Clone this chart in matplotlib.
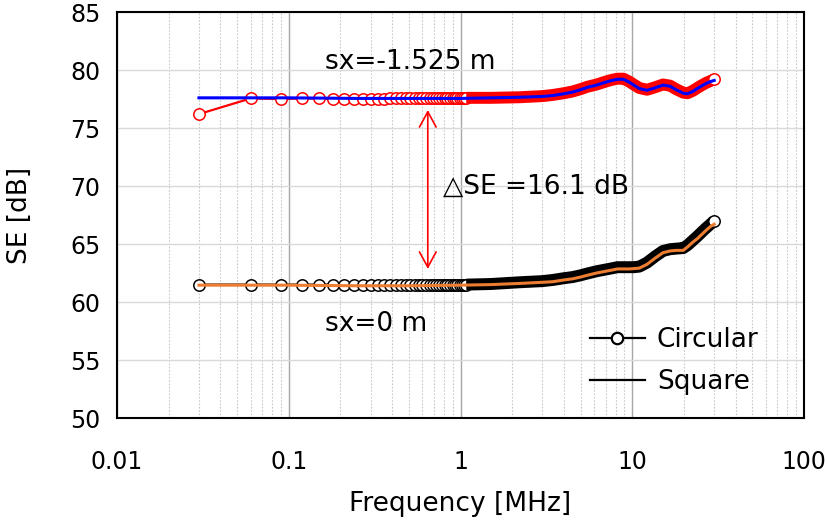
import matplotlib
matplotlib.use("Agg")
import matplotlib.pyplot as plt
from matplotlib.lines import Line2D
from matplotlib.ticker import LogLocator, FixedLocator, NullFormatter

# ---------------- data ----------------
# Circular cable: individual sweep points (low frequency, 0.03 MHz steps)
freq_circ_low = [0.03, 0.06, 0.09, 0.12, 0.15, 0.18, 0.21, 0.24, 0.27, 0.30,
                 0.33, 0.36, 0.39, 0.42, 0.45, 0.48, 0.51, 0.54, 0.57, 0.60,
                 0.63, 0.66, 0.69, 0.72, 0.75, 0.78, 0.81, 0.84, 0.87, 0.90,
                 0.93, 0.96, 0.99, 1.02, 1.05, 1.08]
se_circ_top_low = [76.2, 77.55, 77.5, 77.55, 77.55, 77.5, 77.5, 77.5, 77.5, 77.5,
                   77.5, 77.5, 77.55, 77.55, 77.55, 77.55, 77.55, 77.55, 77.55, 77.6,
                   77.6, 77.6, 77.6, 77.6, 77.6, 77.6, 77.6, 77.6, 77.6, 77.6,
                   77.6, 77.6, 77.6, 77.6, 77.6, 77.6]
se_circ_bot_low = [61.5] * 36

# Circular cable: dense part of sweep (read along the band centre)
freq_circ_high = [1.5, 2.2, 3.0, 3.45, 4.0, 4.5, 5.0, 5.46, 6.2, 7.0, 7.6, 8.2,
                  8.9, 9.6, 10.2, 11.0, 12.2, 13.5, 15.1, 16.6, 18.0, 19.8, 21.0,
                  22.5, 23.9, 25.5, 27.0, 28.5, 30.0]
se_circ_top_high = [77.6, 77.65, 77.75, 77.85, 78.0, 78.15, 78.35, 78.55, 78.75,
                    79.0, 79.15, 79.25, 79.25, 79.0, 78.75, 78.45, 78.3, 78.5,
                    78.75, 78.65, 78.35, 78.05, 78.0, 78.2, 78.45, 78.7, 78.9,
                    79.05, 79.2]
se_circ_bot_high = [61.55, 61.7, 61.8, 61.9, 62.05, 62.15, 62.3, 62.45, 62.65,
                    62.8, 62.9, 63.0, 63.0, 63.0, 63.0, 63.05, 63.4, 63.9, 64.4,
                    64.55, 64.6, 64.65, 64.9, 65.3, 65.65, 66.05, 66.4, 66.7, 67.0]

# Square cable
freq_sq = [0.03, 0.1, 0.25, 0.5, 1.0, 1.5, 2.2, 3.0, 3.45, 4.0, 4.5, 5.0, 5.46,
           6.2, 7.0, 7.6, 8.2, 8.9, 9.6, 10.2, 11.0, 12.2, 13.5, 15.1, 16.6,
           18.0, 19.8, 21.0, 22.5, 23.9, 25.5, 27.0, 28.5, 30.0]
se_sq_top = [77.6, 77.6, 77.55, 77.55, 77.55, 77.6, 77.65, 77.72, 77.8, 77.95,
             78.1, 78.3, 78.5, 78.7, 78.95, 79.1, 79.2, 79.2, 78.95, 78.7, 78.4,
             78.25, 78.45, 78.7, 78.6, 78.3, 78.0, 77.95, 78.15, 78.4, 78.65,
             78.85, 79.0, 79.1]
se_sq_bot = [61.45, 61.45, 61.4, 61.4, 61.45, 61.5, 61.6, 61.7, 61.75, 61.9,
             62.0, 62.15, 62.3, 62.5, 62.65, 62.75, 62.85, 62.85, 62.85, 62.88,
             62.92, 63.25, 63.75, 64.25, 64.4, 64.45, 64.45, 64.75, 65.15,
             65.45, 65.85, 66.2, 66.5, 66.7]

legend_labels = ["Circular", "Square"]
x_ticks = [0.01, 0.1, 1, 10, 100]
x_tick_labels = ["0.01", "0.1", "1", "10", "100"]
y_ticks = [50, 55, 60, 65, 70, 75, 80, 85]
label_top = "sx=-1.525 m"
label_bot = "sx=0 m"
label_delta = "\u25b3SE =16.1 dB"
arrow_freq = 0.645
arrow_se = [76.55, 62.85]

# ---------------- style ----------------
plt.rcParams["font.family"] = ["DejaVu Sans"]
FS = 19
FS_TICK = 17
RED = "#ff0000"
BLUE = "#0000ff"
ORANGE = "#ed7d31"
BLACK = "#000000"
MS = 8.2
MEW = 1.1
BAND = 8.6

fig = plt.figure(figsize=(8.27, 5.24), dpi=100)
ax = fig.add_axes([117 / 827, 1 - 418 / 524, 687 / 827, 406 / 524])
ax.set_xscale("log")
ax.set_xlim(0.01, 100)
ax.set_ylim(50, 85)

# grid
ax.xaxis.set_major_locator(FixedLocator(x_ticks))
ax.xaxis.set_minor_locator(LogLocator(base=10, subs=range(2, 10), numticks=50))
ax.xaxis.set_minor_formatter(NullFormatter())
ax.set_xticks(x_ticks)
ax.set_xticklabels(x_tick_labels)
ax.set_yticks(y_ticks)
ax.grid(axis="x", which="major", color="#a6a6a6", lw=1.0)
ax.grid(axis="x", which="minor", color="#c8c8c8", lw=0.8, ls=(0, (1.5, 1.5)))
ax.grid(axis="y", which="major", color="#d9d9d9", lw=1.0)
ax.set_axisbelow(True)
ax.tick_params(which="both", length=0)
ax.tick_params(axis="x", pad=23, labelsize=FS_TICK)
ax.tick_params(axis="y", pad=12, labelsize=FS_TICK)
for s in ax.spines.values():
    s.set_linewidth(1.5)
    s.set_color("black")


def circ_series(f_low, y_low, f_high, y_high, color, z):
    f_all = f_low + f_high
    y_all = y_low + y_high
    # thin connecting line
    ax.plot(f_all, y_all, color=color, lw=1.6, zorder=z)
    # distinct sweep markers
    ax.plot(f_low, y_low, ls="none", marker="o", ms=MS, mfc="white",
            mec=color, mew=MEW, zorder=z)
    # dense sweep region (overlapping markers form a solid band)
    ax.plot(f_low[-1:] + f_high, y_low[-1:] + y_high, color=color, lw=BAND,
            solid_capstyle="butt", solid_joinstyle="round", zorder=z)
    # last sweep point
    ax.plot(f_high[-1:], y_high[-1:], ls="none", marker="o", ms=MS,
            mfc="white", mec=color, mew=MEW, zorder=z)


circ_series(freq_circ_low, se_circ_top_low, freq_circ_high, se_circ_top_high, RED, 3)
circ_series(freq_circ_low, se_circ_bot_low, freq_circ_high, se_circ_bot_high, BLACK, 3)

ax.plot(freq_sq, se_sq_top, color=BLUE, lw=2.2, zorder=4)
ax.plot(freq_sq, se_sq_bot, color=ORANGE, lw=2.2, zorder=4)

# annotation arrow and texts
ax.annotate("", xy=(arrow_freq, arrow_se[0]), xytext=(arrow_freq, arrow_se[1]),
            arrowprops=dict(arrowstyle="<->,head_length=0.55,head_width=0.3",
                            color=RED, lw=1.2, shrinkA=0, shrinkB=0,
                            mutation_scale=20), zorder=5)
ax.text(0.162, 80.7, label_top, fontsize=FS, va="center", ha="left", zorder=6)
ax.text(0.786, 69.9, label_delta, fontsize=FS, va="center", ha="left", zorder=6)
ax.text(0.162, 58.1, label_bot, fontsize=FS, va="center", ha="left", zorder=6)

ax.set_xlabel("Frequency [MHz]", fontsize=FS, labelpad=12)
ax.set_ylabel("SE [dB]", fontsize=FS, labelpad=26.5)

handles = [
    Line2D([], [], color=BLACK, lw=1.6, marker="o", ms=MS, mfc="white", mec=BLACK, mew=1.6),
    Line2D([], [], color=BLACK, lw=1.6),
]
ax.legend(handles, legend_labels, loc="upper left", bbox_to_anchor=(0.688, 0.224),
          frameon=False, fontsize=FS, handlelength=2.1, handletextpad=0.45,
          labelspacing=0.6, borderpad=0, borderaxespad=0)

fig.savefig("out.png", dpi=100)
